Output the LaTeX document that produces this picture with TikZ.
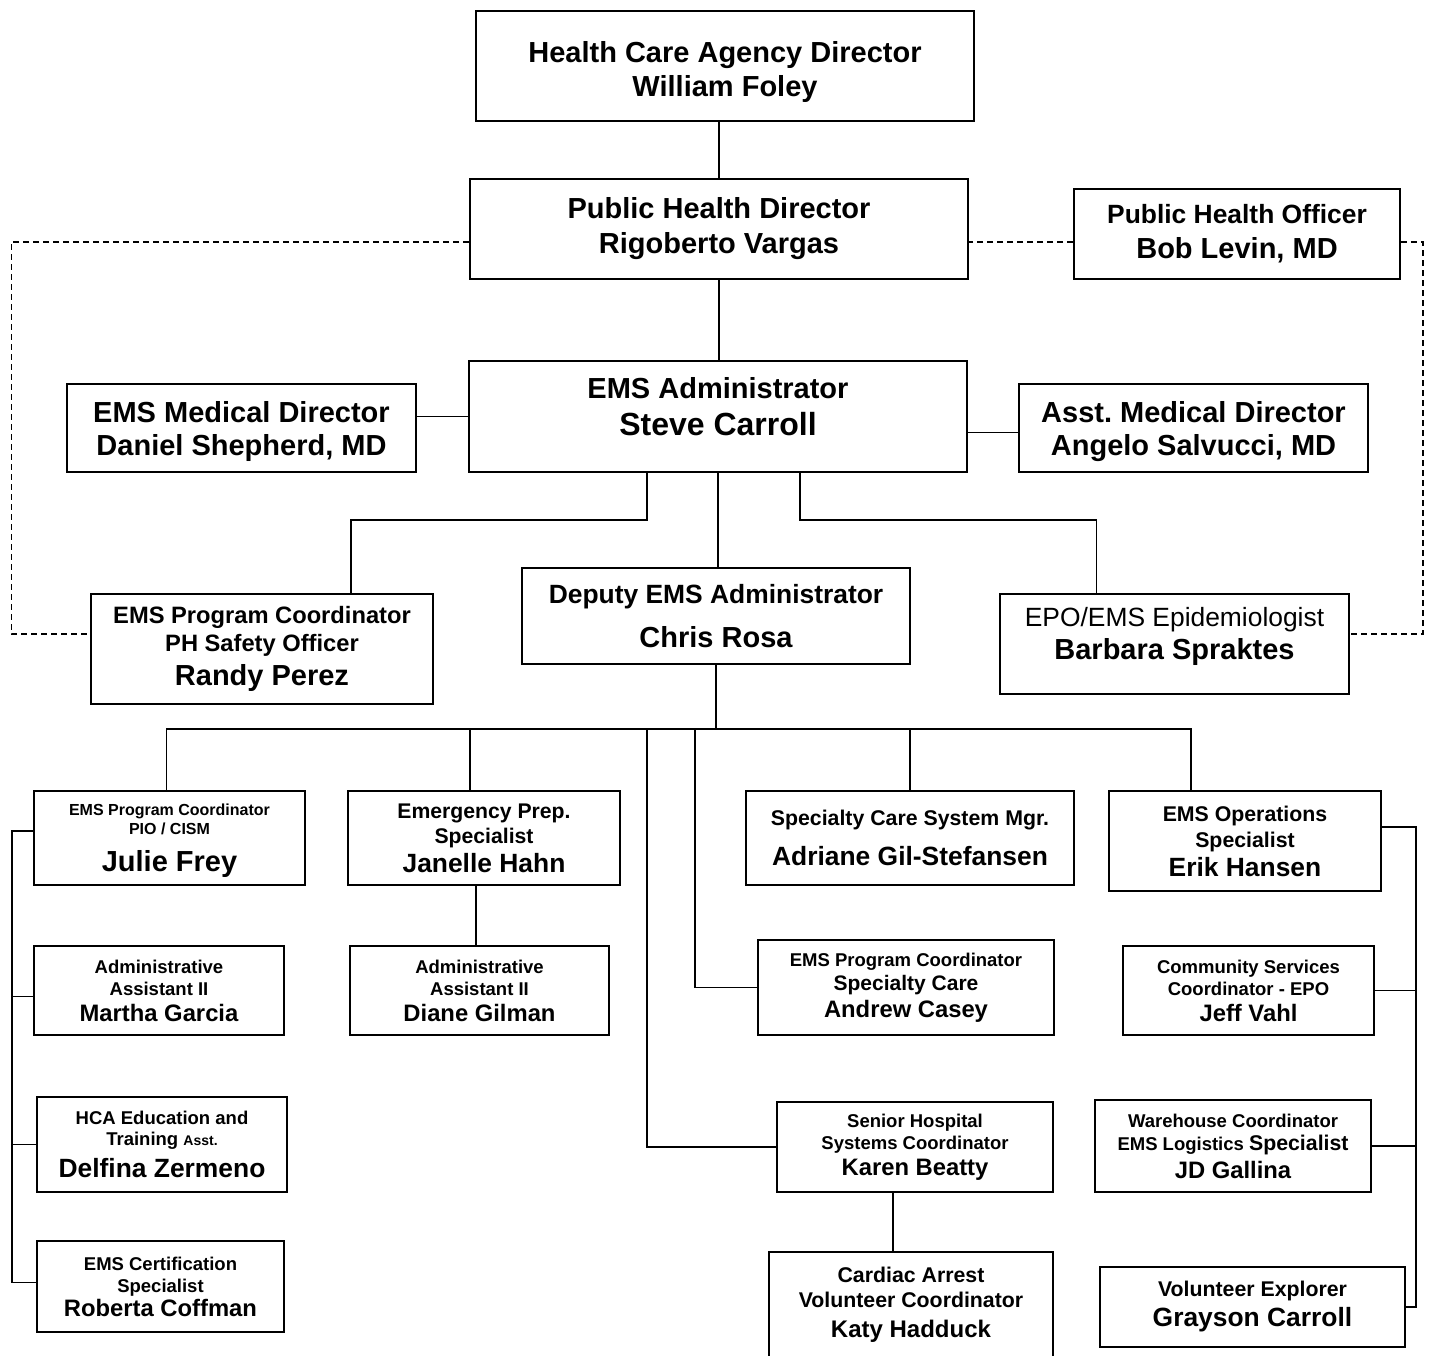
\documentclass[tikz,border=0pt]{standalone}
\usepackage{fontspec}
\setmainfont{Liberation Sans}
\newcommand\fsz[2]{\fontsize{#1}{#2}\selectfont}

\begin{document}
\begin{tikzpicture}
    [x=1pt, y=-1pt,
     box/.style={draw, line width=1.6pt, align=center, inner sep=0pt},
     wh/.style 2 args={minimum width=#1pt, minimum height=#2pt},
     link/.style={line width=1.4pt},
     advise/.style={link, dash pattern=on 6pt off 4pt}]
  \clip (0,0) rectangle (1429,1355);
  % top of the chart
  \node[box, wh={498}{110}, font=\bfseries\fsz{29}{34}] (hca) at (725,66) {\rule{0pt}{33pt}Health Care Agency Director\\William Foley};
  \node[box, wh={498}{100}, font=\bfseries\fsz{29}{35}] (phd) at (719,229) {Public Health Director\\Rigoberto Vargas};
  \node[box, wh={326}{90}, font=\bfseries\fsz{26.4}{35}] (pho) at (1237,234) {Public Health Officer\\\fsz{29}{35}Bob Levin, MD};
  \node[box, wh={498}{111}, text depth=20pt, font=\bfseries\fsz{29}{37}] (ems) at (718,416.5) {EMS Administrator\\\fsz{32}{37}Steve Carroll};
  \node[box, wh={349}{88}, text depth=-2pt, font=\bfseries\fsz{29}{33}] (med) at (241.5,428) {EMS Medical Director\\Daniel Shepherd, MD};
  \node[box, wh={349}{88}, text depth=-3pt, font=\bfseries\fsz{29}{33}] (asst) at (1193.5,428) {Asst.\ Medical Director\\Angelo Salvucci, MD};
  \node[box, wh={342}{110}, font=\bfseries\fsz{23.7}{28}] (phso) at (262,649) {EMS Program Coordinator\\PH Safety Officer\\[6pt]\fsz{29}{34}Randy Perez};
  \node[box, wh={388}{96}, font=\bfseries\fsz{26.4}{44}] (dep) at (716,616) {Deputy EMS Administrator\\\fsz{29}{34}Chris Rosa};
  \node[box, wh={349}{100}, text depth=22pt, font=\bfseries\fsz{26.4}{33}] (epi) at (1174.5,644) {\mdseries EPO/EMS Epidemiologist\\\fsz{29}{33}Barbara Spraktes};
  % staff under the deputy
  \node[box, wh={271}{94}, text depth=-2pt, font=\bfseries\fsz{16}{19}] (julie) at (169.5,838) {EMS Program Coordinator\\PIO / CISM\\[15pt]\fsz{29}{34}Julie Frey};
  \node[box, wh={250}{89}, font=\bfseries\fsz{18.5}{22}] (martha) at (159,990.5) {Administrative\\Assistant II\\[4pt]\fsz{23.8}{26}Martha Garcia};
  \node[box, wh={250}{95}, font=\bfseries\fsz{18.5}{21}] (delfina) at (162,1144.5) {HCA Education and\\Training {\fsz{14}{16}Asst.}\\[8pt]\fsz{26.4}{30}Delfina Zermeno};
  \node[box, wh={247}{91}, font=\bfseries\fsz{18.5}{22}] (roberta) at (160.5,1286.5) {EMS Certification\\Specialist\\[2pt]\fsz{23.8}{26}Roberta Coffman};
  \node[box, wh={272}{94}, text depth=-6pt, font=\bfseries\fsz{21.2}{25}] (janelle) at (484,838) {Emergency Prep.\\Specialist\\[4pt]\fsz{26.4}{30}Janelle Hahn};
  \node[box, wh={259}{89}, font=\bfseries\fsz{18.5}{22}] (diane) at (479.5,990.5) {Administrative\\Assistant II\\[4pt]\fsz{23.8}{26}Diane Gilman};
  \node[box, wh={328}{94}, font=\bfseries\fsz{21.3}{40}] (adriane) at (910,838) {Specialty Care System Mgr.\\\fsz{26.4}{30}Adriane Gil-Stefansen};
  \node[box, wh={296}{95}, font=\bfseries\fsz{18.5}{24}] (andrew) at (906,987.5) {EMS Program Coordinator\\\fsz{21}{24}Specialty Care\\[3pt]\fsz{23.8}{26}Andrew Casey};
  \node[box, wh={276}{90}, font=\bfseries\fsz{18.5}{22}] (karen) at (915,1147) {Senior Hospital\\Systems Coordinator\\[4pt]\fsz{23.8}{26}Karen Beatty};
  \node[box, wh={284}{106}, font=\bfseries\fsz{21.3}{25}] (katy) at (911,1305) {Cardiac Arrest\\Volunteer Coordinator\\[5pt]\fsz{24}{28}Katy Hadduck};
  \node[box, wh={272}{100}, font=\bfseries\fsz{21.3}{26}] (erik) at (1245,841) {EMS Operations\\Specialist\\[3pt]\fsz{26.4}{30}Erik Hansen};
  \node[box, wh={251}{89}, font=\bfseries\fsz{18.5}{22}] (jeff) at (1248.5,990.5) {Community Services\\Coordinator - EPO\\[4pt]\fsz{23.8}{26}Jeff Vahl};
  \node[box, wh={276}{92}, font=\bfseries\fsz{18.5}{23}] (jd) at (1233,1146) {Warehouse Coordinator\\EMS Logistics {\fsz{21.3}{24}Specialist}\\[5pt]\fsz{23.8}{26}JD Gallina};
  \node[box, wh={305}{80}, font=\bfseries\fsz{21.3}{30}] (grayson) at (1252.5,1307) {Volunteer Explorer\\\fsz{26.4}{30}Grayson Carroll};
  % reporting lines
  \draw[link] (phd.north) -- (phd.north |- hca.south);
  \draw[link] (phd.south) -- (phd.south |- ems.north);
  \draw[link] (ems.west) -- (ems.west -| med.east);
  \draw[link] ([yshift=-16pt]ems.east) -- ([yshift=-16pt]ems.east -| asst.west);
  \draw[link] ([xshift=-71pt]ems.south) -- ++(0,47) -| ([xshift=89pt]phso.north);
  \draw[link] (ems.south) -- (ems.south |- dep.north);
  \draw[link] ([xshift=82pt]ems.south) -- ++(0,47) -| ([xshift=-78pt]epi.north);
  \draw[advise] ([yshift=-13pt]phd.west) -- ++(-458,0) |- ([yshift=15pt]phso.west);
  \draw[advise] ([yshift=-8pt]pho.west) -- ([yshift=-8pt]pho.west -| phd.east);
  \draw[advise] ([yshift=-8pt]pho.east) -- ++(22,0) |- ([yshift=10pt]epi.east);
  \coordinate (bus) at (716,729);
  \coordinate (lbus) at (12,831);
  \coordinate (rbus) at (1416,827);
  \draw[link] (dep.south) -- (bus);
  \draw[link] ([xshift=-3pt]julie.north) |- (bus) -| ([xshift=-54pt]erik.north);
  \draw[link] ([xshift=-14pt]janelle.north) -- ([xshift=-14pt]janelle.north |- bus);
  \draw[link] (adriane.north) -- (adriane.north |- bus);
  \draw[link] (andrew.west) -| ([xshift=-21pt]bus);
  \draw[link] (karen.west) -| ([xshift=-69pt]bus);
  \draw[link] ([xshift=-8pt]janelle.south) -- ([xshift=-8pt]janelle.south |- diane.north);
  \draw[link] ([xshift=-22pt]karen.south) -- ([xshift=-22pt]karen.south |- katy.north);
  \draw[link] ([yshift=7pt]julie.west) -- (lbus) |- ([yshift=4pt]roberta.west);
  \draw[link] ([yshift=-6pt]martha.west) -- ([yshift=-6pt]martha.west -| lbus);
  \draw[link] (delfina.west) -- (delfina.west -| lbus);
  \draw[link] ([yshift=14pt]erik.east) -- (rbus) |- (grayson.east);
  \draw[link] (jeff.east) -- (jeff.east -| rbus);
  \draw[link] (jd.east) -- (jd.east -| rbus);
\end{tikzpicture}
\end{document}
